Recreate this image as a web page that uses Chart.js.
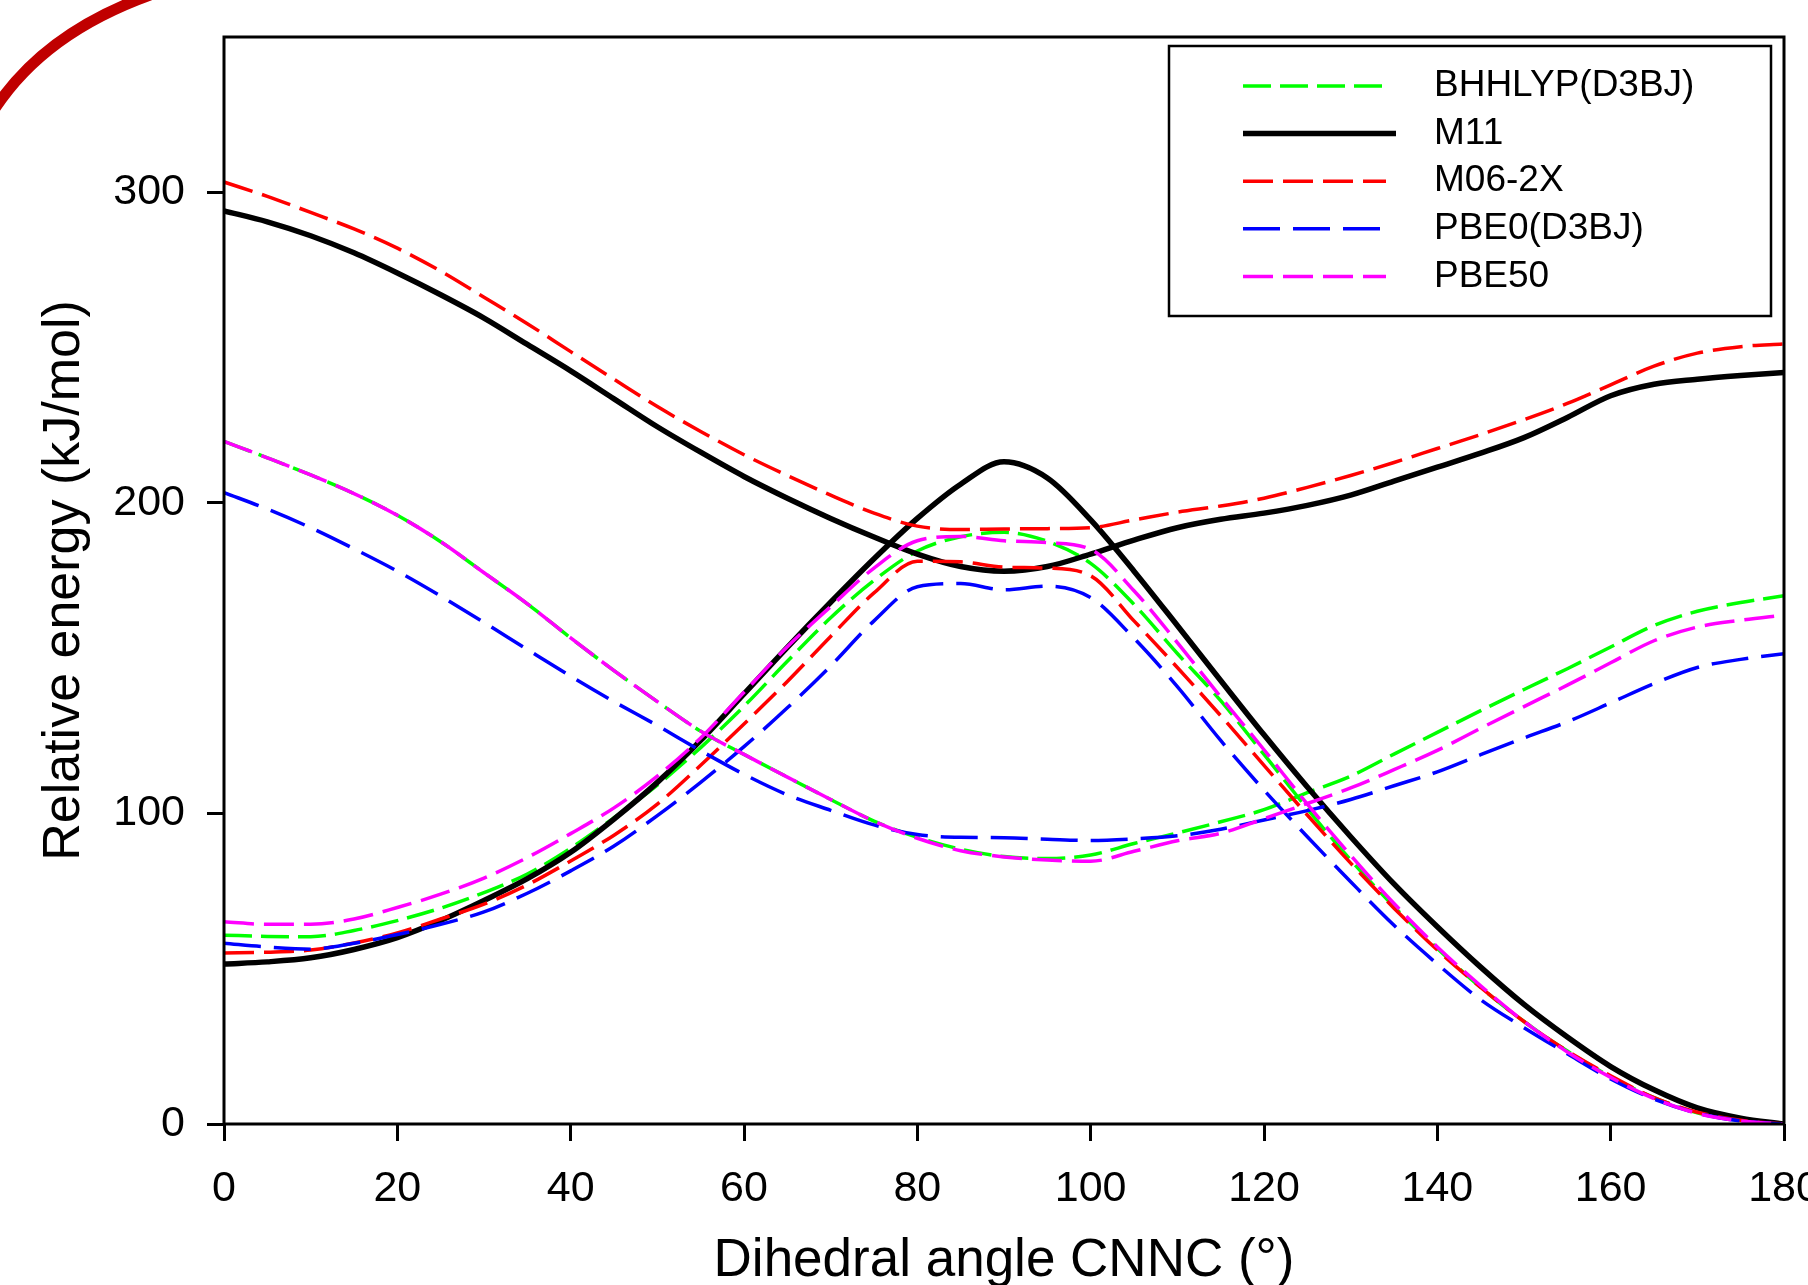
<!DOCTYPE html>
<html>
<head>
<meta charset="utf-8">
<title>Relative energy vs dihedral angle CNNC</title>
<script src="https://cdn.jsdelivr.net/npm/chart.js@4.4.1/dist/chart.umd.min.js"></script>
<style>
    html, body { margin: 0; padding: 0; background: #fff; overflow: hidden; }
    #wrap { position: relative; width: 1808px; height: 1285px; overflow: hidden; }
    #energyChart { position: absolute; left: 0; top: 0; width: 1850px; height: 1320px; }
    #arc { position: absolute; left: 0; top: 0; }
</style>
</head>
<body>
<div id="wrap">
    <canvas id="energyChart" width="1850" height="1320"></canvas>
    <svg id="arc" width="220" height="160">
        <path d="M -6 110 C 25 62, 75 22, 150 -5" fill="none" stroke="#c00000" stroke-width="11"/>
    </svg>
</div>
<script>
const angles = [0, 5, 10, 15, 20, 25, 30, 35, 40, 45, 50, 55, 60, 65, 70, 75, 80, 85, 90,
    95, 100, 105, 110, 115, 120, 125, 130, 135, 140, 145, 150, 155, 160, 165, 170, 175, 180];

const xTicks = [0, 20, 40, 60, 80, 100, 120, 140, 160, 180];
const yTicks = [0, 100, 200, 300];

const methods = ["BHHLYP(D3BJ)", "M11", "M06-2X", "PBE0(D3BJ)", "PBE50"];

// two curves per method: A starts high at 0°, B starts low
const bhhlypA = [219.8, 214.5, 209, 203, 196, 187.5, 177.5, 167.5, 156.5, 146, 136, 126.5, 119,
    111.7, 104.5, 97.5, 92.3, 88.5, 86.1, 85.5, 86.6, 90.3, 93.7, 97.3, 101.2, 106.7, 112, 119.1,
    126.1, 133.1, 139.9, 146.6, 153.6, 160.5, 165.1, 167.9, 170.1];
const bhhlypB = [60.8, 60.4, 60.3, 62.3, 65.5, 69.5, 74.5, 80.5, 88.8, 98.6, 109.1, 121.2, 134.5,
    149, 163, 175, 184.5, 189.1, 190.5, 187.6, 180.5, 167.3, 151.5, 136.3, 119, 101.5, 85, 70,
    56.5, 44, 33, 23.5, 15.2, 8.5, 3.6, 1.1, 0];

const m11A = [294, 290.5, 286, 280.5, 274, 267, 259.5, 251, 242.5, 233.5, 224.5, 216.3, 208.5,
    201.5, 195, 189, 183.5, 179.5, 178, 179.5, 183.5, 188, 192, 194.7, 196.7, 199.2, 202.5, 207,
    211.5, 216, 221, 227.5, 234.5, 238.2, 239.8, 241, 242];
const m11B = [51.5, 52.2, 53.5, 56.2, 60, 65.5, 72, 79, 87.5, 98.2, 110, 123.5, 138.5, 153.5, 168,
    182, 195, 206, 213.2, 208, 194.5, 178, 160.5, 142.8, 125.3, 108.5, 92.5, 77.3, 63.5, 50.5,
    38.5, 28, 18.5, 11, 5.2, 1.9, 0];

const m062xA = [303.3, 298.7, 293.5, 288.2, 282, 274.6, 266.2, 257.7, 248.7, 239.8, 231, 223, 215.5,
    208.8, 202.5, 196.7, 192.5, 191.4, 191.6, 191.7, 192, 194.5, 197, 199, 201.5, 205, 208.8, 213,
    217.5, 222, 226.8, 232, 238, 244, 248.2, 250.3, 251.2];
const m062xB = [55.1, 55.3, 56, 58.3, 61.5, 66, 70.8, 77, 84.7, 93, 103, 115.5, 128.8, 142.5,
    157, 171, 181.2, 181, 179.3, 179, 176.5, 162, 147, 131.5, 115.5, 99.5, 84, 69.5, 56, 44, 33,
    23.5, 15.5, 8.5, 3.8, 1.2, 0];

const pbe0A = [203.3, 198, 192, 185.2, 178, 170, 161.5, 152.8, 144.2, 136, 128.3, 120.2, 112.6,
    106, 101, 96.3, 93.2, 92.3, 92.2, 91.7, 91.3, 91.8, 92.8, 94.9, 97.9, 100.9, 104.5, 108.9,
    113.4, 118.9, 124.3, 129.5, 135.6, 141.8, 147, 149.6, 151.4];
const pbe0B = [58.2, 57, 56.3, 58.2, 61, 64.3, 68.3, 74.3, 81.5, 89.5, 99.3, 110, 121.5, 134, 147.5,
    162, 173, 174, 172, 173.2, 169.5, 156.4, 140.8, 123.5, 107.5, 92.5, 78, 64, 51.5, 40, 31,
    22.6, 14.5, 8, 3.5, 1, 0];

const pbe50A = [219.8, 214.5, 209, 203, 196, 187.5, 177.5, 167.5, 156.5, 146, 136, 126.5, 119,
    111.7, 104.5, 97.5, 92, 88, 86, 85, 84.6, 87.8, 91.2, 93.6, 98.3, 103.2, 108.2, 114.1, 120.3,
    127.4, 134.4, 141.3, 148.5, 155.6, 160, 162.2, 163.9];
const pbe50B = [65.1, 64.3, 64.3, 66, 69.7, 74, 79.2, 85.8, 93.5, 101.8, 112, 124.3, 139, 153.7,
    166.6, 179, 187.8, 189.2, 187.8, 187.2, 185, 171.7, 155, 137.5, 120.5, 103, 86.5, 71, 57, 44.5,
    33, 23.2, 15, 8.2, 3.4, 1, 0];

const FONT = "'Liberation Sans', Arial, Helvetica, sans-serif";

const lineStyles = {
    "BHHLYP(D3BJ)": { color: "#00ff00", dash: [28, 9], width: 3.5, order: 5 },
    "M11": { color: "#000000", dash: [], width: 5.5, order: 4 },
    "M06-2X": { color: "#ff0000", dash: [30, 10], width: 3.5, order: 3 },
    "PBE0(D3BJ)": { color: "#0000ff", dash: [37, 13], width: 3.5, order: 2 },
    "PBE50": { color: "#ff00ff", dash: [30, 10], width: 3.5, order: 1 }
};

function toPoints(values) {
    return angles.map((a, i) => ({ x: a, y: values[i] }));
}

function makeDataset(name, values) {
    const st = lineStyles[name];
    return {
        label: name,
        data: toPoints(values),
        borderColor: st.color,
        backgroundColor: st.color,
        borderWidth: st.width,
        borderDash: st.dash,
        pointRadius: 0,
        pointHoverRadius: 0,
        fill: false,
        cubicInterpolationMode: "monotone",
        order: st.order
    };
}

const datasets = [
    makeDataset("BHHLYP(D3BJ)", bhhlypA), makeDataset("BHHLYP(D3BJ)", bhhlypB),
    makeDataset("M11", m11A), makeDataset("M11", m11B),
    makeDataset("M06-2X", m062xA), makeDataset("M06-2X", m062xB),
    makeDataset("PBE0(D3BJ)", pbe0A), makeDataset("PBE0(D3BJ)", pbe0B),
    makeDataset("PBE50", pbe50A), makeDataset("PBE50", pbe50B)
];

// box around the plot + legend inside the top right corner
const frameAndLegend = {
    id: "frameAndLegend",
    afterDraw(chart) {
        const { ctx, chartArea } = chart;
        ctx.save();
        ctx.strokeStyle = "#000";
        ctx.lineWidth = 3;
        ctx.setLineDash([]);
        ctx.strokeRect(chartArea.left, chartArea.top,
            chartArea.right - chartArea.left, chartArea.bottom - chartArea.top);

        ctx.lineWidth = 2.5;
        ctx.strokeRect(1169, 46, 602, 270);

        ctx.font = "37px " + FONT;
        ctx.textBaseline = "middle";
        ctx.textAlign = "left";
        methods.forEach((name, i) => {
            const st = lineStyles[name];
            const y = 86 + i * 47.6;
            ctx.strokeStyle = st.color;
            ctx.lineWidth = st.width;
            ctx.setLineDash(st.dash);
            ctx.beginPath();
            ctx.moveTo(1243, y);
            ctx.lineTo(name === "M11" ? 1396 : 1386, y);
            ctx.stroke();
            ctx.setLineDash([]);
            ctx.fillStyle = "#000";
            ctx.fillText(name, 1434, y);
        });
        ctx.restore();
    }
};

function axisGrid() {
    return {
        drawOnChartArea: false,
        drawTicks: true,
        tickLength: 17,
        tickWidth: 3,
        tickColor: "#000"
    };
}

const chart = new Chart(document.getElementById("energyChart"), {
    type: "line",
    data: { datasets },
    options: {
        responsive: false,
        devicePixelRatio: 1,
        animation: false,
        layout: { padding: { left: 0, right: 66, top: 37, bottom: 0 } },
        plugins: {
            legend: { display: false },
            tooltip: { enabled: false }
        },
        scales: {
            x: {
                type: "linear",
                min: 0,
                max: 180,
                afterBuildTicks: (s) => { s.ticks = xTicks.map(v => ({ value: v })); },
                afterFit: (s) => { s.height = 196; s.paddingLeft = 0; s.paddingRight = 0; },
                grid: axisGrid(),
                border: { display: false },
                ticks: {
                    color: "#000",
                    font: { family: FONT, size: 43 },
                    padding: 22,
                    maxRotation: 0,
                    autoSkip: false
                },
                title: {
                    display: true,
                    text: "Dihedral angle CNNC (°)",
                    color: "#000",
                    font: { family: FONT, size: 53 },
                    padding: { top: 0, bottom: 27 }
                }
            },
            y: {
                type: "linear",
                min: 0,
                max: 350,
                afterBuildTicks: (s) => { s.ticks = yTicks.map(v => ({ value: v })); },
                afterFit: (s) => { s.width = 224; s.paddingTop = 0; s.paddingBottom = 0; },
                grid: axisGrid(),
                border: { display: false },
                ticks: {
                    color: "#000",
                    font: { family: FONT, size: 43 },
                    padding: 22
                },
                title: {
                    display: true,
                    text: "Relative energy (kJ/mol)",
                    color: "#000",
                    font: { family: FONT, size: 52 },
                    padding: { top: 33, bottom: 0 }
                }
            }
        }
    },
    plugins: [frameAndLegend]
});
</script>
</body>
</html>
